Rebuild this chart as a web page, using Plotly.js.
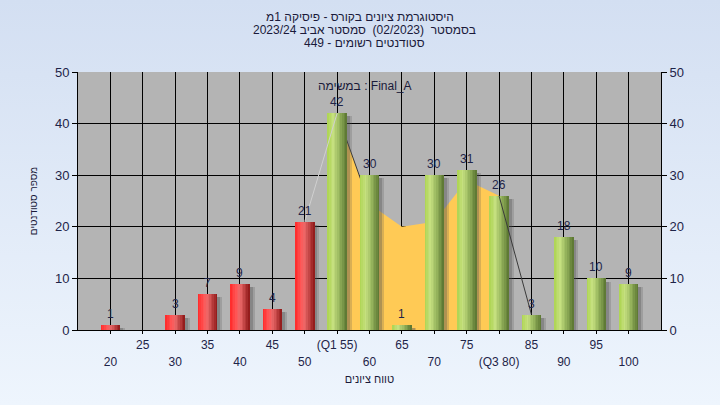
<!DOCTYPE html>
<html>
<head>
<meta charset="utf-8">
<script src="https://cdn.plot.ly/plotly-3.0.1.min.js"></script>
<style>
  html, body { margin: 0; padding: 0; }
  body { width: 720px; height: 405px; background: linear-gradient(to bottom, #D3DFF2 0%, #EEF5FD 100%); }
  #chart { width: 720px; height: 405px; }
</style>
</head>
<body>
<div id="chart"></div>
<script>
// ---------- data ----------
const grades = [20, 25, 30, 35, 40, 45, 50, 55, 60, 65, 70, 75, 80, 85, 90, 95, 100];
const counts = [1, 0, 3, 7, 9, 4, 21, 42, 30, 1, 30, 31, 26, 3, 18, 10, 9];
const gradeLabels = ['20', '25', '30', '35', '40', '45', '50', '(Q1 55)', '60', '65', '70', '75', '(Q3 80)', '85', '90', '95', '100'];
const passFrom = 55;
// interquartile area (Q1..Q3)
const iqrGrades = [55, 60, 65, 70, 75, 80];
const iqrValues = [42, 24.4, 20, 21, 29, 26];
// connecting lines outside the interquartile range
const leadGrades = [50, 55];
const leadValues = [21, 42];
const tailGrades = [80, 85];
const tailValues = [26, 3];

const titleLines = [
  'היסטוגרמת ציונים בקורס - פיסיקה 1מ',
  'בסמסטר  (02/2023)  סמסטר אביב 2023/24',
  'סטודנטים רשומים - 449'
];
const taskLabel = 'במשימה : Final_A';
const xTitle = 'טווח ציונים';
const yTitle = 'מספר סטודנטים';

// ---------- styling helpers ----------
const BAR_W = 3.0;
const NSTRIP = 12;
const redStops = [[0, [255, 40, 40]], [0.3, [255, 85, 85]], [0.5, [235, 105, 105]], [1, [140, 22, 22]]];
const greenStops = [[0, [172, 212, 80]], [0.3, [198, 224, 128]], [0.55, [160, 190, 100]], [1, [88, 115, 48]]];
function interp(stops, t) {
  for (let i = 0; i < stops.length - 1; i++) {
    const [p0, c0] = stops[i], [p1, c1] = stops[i + 1];
    if (t >= p0 && t <= p1) {
      const f = (t - p0) / (p1 - p0);
      const c = c0.map((v, j) => Math.round(v + (c1[j] - v) * f));
      return `rgb(${c[0]},${c[1]},${c[2]})`;
    }
  }
  const c = stops[stops.length - 1][1];
  return `rgb(${c[0]},${c[1]},${c[2]})`;
}

const traces = [];

// ----- base subplot (x, y): interquartile area -----
traces.push({
  type: 'scatter', mode: 'lines', x: iqrGrades, y: iqrValues,
  fill: 'tozeroy', fillcolor: '#FFCA55',
  line: { color: 'rgba(0,0,0,0)', width: 0 },
  hoverinfo: 'skip', showlegend: false
});
traces.push({
  type: 'scatter', mode: 'lines', x: iqrGrades.slice(0, 2), y: iqrValues.slice(0, 2),
  line: { color: '#3a3a3a', width: 1 }, hoverinfo: 'skip', showlegend: false
});
// ----- overlay subplot (x3, y): connecting lines -----
traces.push({
  type: 'scatter', mode: 'lines', x: leadGrades, y: leadValues, xaxis: 'x3', yaxis: 'y',
  line: { color: '#D0D0D0', width: 1 }, hoverinfo: 'skip', showlegend: false
});
traces.push({
  type: 'scatter', mode: 'lines', x: tailGrades, y: tailValues, xaxis: 'x3', yaxis: 'y',
  line: { color: '#3a3a3a', width: 1 }, hoverinfo: 'skip', showlegend: false
});

// ----- overlay subplot (x2, y2): bars -----
traces.push({
  type: 'bar', x: grades, y: counts, base: -0.6, width: BAR_W,
  offset: -BAR_W / 2 + 0.45, xaxis: 'x2', yaxis: 'y2',
  marker: { color: 'rgba(80,80,80,0.30)', line: { width: 0 } },
  hoverinfo: 'skip', showlegend: false
});
traces.push({
  type: 'bar', x: grades, y: counts, base: -0.6, width: BAR_W,
  offset: -BAR_W / 2 + 0.75, xaxis: 'x2', yaxis: 'y2',
  marker: { color: 'rgba(80,80,80,0.22)', line: { width: 0 } },
  hoverinfo: 'skip', showlegend: false
});
for (let k = 0; k < NSTRIP; k++) {
  const t = (k + 0.5) / NSTRIP;
  const colors = grades.map(g => g >= passFrom ? interp(greenStops, t) : interp(redStops, t));
  traces.push({
    type: 'bar', x: grades, y: counts, xaxis: 'x2', yaxis: 'y2',
    width: BAR_W / NSTRIP + 0.02,
    offset: -BAR_W / 2 + k * BAR_W / NSTRIP,
    marker: { color: colors, line: { width: 0 } },
    hoverinfo: 'skip', showlegend: false
  });
}

const FONT = 'Liberation Sans, Arial, sans-serif';
const tickColor = '#1E2448';
const textColor = '#1A1A3A';

// value labels as annotations above each non-empty bar
const annotations = [];
grades.forEach((g, i) => {
  if (counts[i] > 0) {
    annotations.push({
      x: g, y: counts[i], xref: 'x2', yref: 'y2', text: String(counts[i]),
      showarrow: false, xanchor: 'center', yanchor: 'middle', yshift: 11,
      font: { family: FONT, size: 12, color: tickColor }
    });
  }
});
annotations.push({
  text: taskLabel, xref: 'paper', yref: 'paper', x: 0.493, y: 1 - 14 / 258,
  xanchor: 'center', yanchor: 'middle', showarrow: false,
  font: { family: FONT, size: 12, color: textColor }
});
// title lines 2 and 3
[1, 2].forEach(i => {
  annotations.push({
    text: titleLines[i], xref: 'paper', yref: 'paper', x: 0.4906,
    y: (330 - (17 + 13 * i)) / 258, xanchor: 'center', yanchor: 'middle', showarrow: false,
    font: { family: FONT, size: 12, color: textColor }
  });
});

// two rows of category labels: odd positions on top row, even positions on the bottom row
const upperVals = grades.filter((g, i) => i % 2 === 1);
const upperText = gradeLabels.filter((l, i) => i % 2 === 1);
const lowerVals = grades.filter((g, i) => i % 2 === 0);
const lowerText = gradeLabels.filter((l, i) => i % 2 === 0);

const layout = {
  width: 720, height: 405,
  margin: { l: 78, r: 59, t: 72, b: 75 },
  paper_bgcolor: 'rgba(0,0,0,0)',
  plot_bgcolor: '#B4B4B4',
  barmode: 'overlay',
  bargap: 0,
  showlegend: false,
  font: { family: FONT, color: tickColor },
  title: {
    text: titleLines[0],
    x: 0.5, xanchor: 'center', xref: 'container',
    y: 1 - 17 / 405, yanchor: 'middle', yref: 'container',
    font: { family: FONT, size: 12, color: textColor }
  },
  xaxis: {
    range: [15, 105], tickmode: 'array', tickvals: grades, showticklabels: false,
    showgrid: true, gridcolor: '#000000', gridwidth: 1,
    zeroline: false, showline: true, linecolor: '#000000', linewidth: 1,
    ticks: 'outside', ticklen: 3, tickcolor: '#000000',
    automargin: false, fixedrange: true
  },
  xaxis2: {
    range: [15, 105], overlaying: 'x', tickmode: 'array', tickvals: upperVals, ticktext: upperText,
    showgrid: false, zeroline: false, showline: false, ticks: '',
    ticklabelstandoff: 6,
    tickfont: { family: FONT, size: 12, color: tickColor },
    automargin: false, fixedrange: true
  },
  xaxis3: {
    range: [15, 105], overlaying: 'x', tickmode: 'array', tickvals: lowerVals, ticktext: lowerText,
    showgrid: false, zeroline: false, showline: false, ticks: '',
    ticklabelstandoff: 23,
    tickfont: { family: FONT, size: 12, color: tickColor },
    title: { text: xTitle, font: { family: FONT, size: 11, color: textColor }, standoff: 7 },
    automargin: false, fixedrange: true
  },
  yaxis: {
    range: [0, 50], dtick: 10, tick0: 0,
    showgrid: true, gridcolor: '#000000', gridwidth: 1,
    zeroline: false, showline: true, linecolor: '#000000', linewidth: 1,
    ticks: 'outside', ticklen: 5, tickcolor: '#000000',
    tickfont: { family: FONT, size: 13, color: tickColor },
    title: { text: yTitle, font: { family: FONT, size: 10, color: textColor }, standoff: 15 },
    automargin: false, fixedrange: true
  },
  yaxis2: {
    range: [0, 50], dtick: 10, tick0: 0, overlaying: 'y', side: 'right',
    showgrid: false, zeroline: false, showline: true, linecolor: '#000000', linewidth: 1,
    ticks: 'outside', ticklen: 5, tickcolor: '#000000',
    tickfont: { family: FONT, size: 13, color: tickColor },
    automargin: false, fixedrange: true
  },
  annotations: annotations
};

Plotly.newPlot('chart', traces, layout, { staticPlot: true, displayModeBar: false });
</script>
</body>
</html>
